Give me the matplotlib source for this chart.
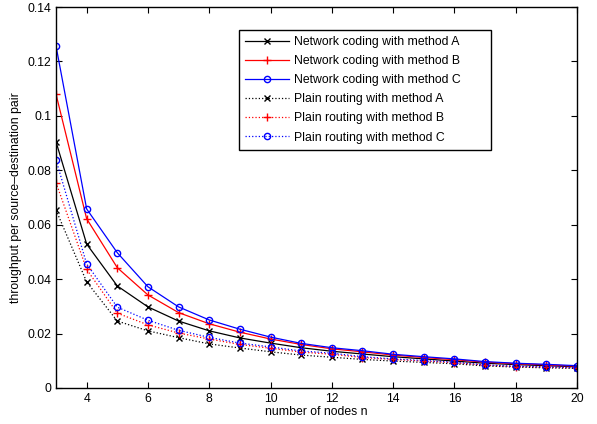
import matplotlib
matplotlib.use("Agg")
import matplotlib.pyplot as plt

plt.rcParams['font.family'] = ['Liberation Sans', 'DejaVu Sans']

n = list(range(3, 21))
nc_a = [0.0905, 0.0529, 0.0375, 0.0298, 0.0246, 0.0210, 0.0184, 0.0165, 0.0148, 0.0135, 0.0125, 0.0115, 0.0107, 0.0099, 0.0091, 0.0086, 0.0082, 0.0078]
nc_b = [0.1080, 0.0622, 0.0442, 0.0342, 0.0277, 0.0236, 0.0205, 0.0180, 0.0160, 0.0144, 0.0133, 0.0121, 0.0112, 0.0104, 0.0095, 0.0089, 0.0085, 0.0080]
nc_c = [0.1257, 0.0658, 0.0497, 0.0372, 0.0298, 0.0250, 0.0216, 0.0187, 0.0164, 0.0148, 0.0137, 0.0124, 0.0115, 0.0107, 0.0097, 0.0091, 0.0087, 0.0082]
pr_a = [0.0654, 0.0390, 0.0246, 0.0210, 0.0185, 0.0162, 0.0147, 0.0133, 0.0121, 0.0113, 0.0105, 0.0099, 0.0094, 0.0089, 0.0081, 0.0077, 0.0074, 0.0072]
pr_b = [0.0755, 0.0436, 0.0275, 0.0232, 0.0202, 0.0180, 0.0160, 0.0146, 0.0132, 0.0124, 0.0112, 0.0105, 0.0099, 0.0093, 0.0084, 0.0079, 0.0077, 0.0074]
pr_c = [0.0838, 0.0456, 0.0297, 0.0249, 0.0212, 0.0186, 0.0165, 0.0151, 0.0136, 0.0128, 0.0115, 0.0107, 0.0101, 0.0095, 0.0085, 0.0080, 0.0078, 0.0075]

labels = ["Network coding with method A", "Network coding with method B",
          "Network coding with method C", "Plain routing with method A",
          "Plain routing with method B", "Plain routing with method C"]
xticks = [4, 6, 8, 10, 12, 14, 16, 18, 20]
yticks = [0, 0.02, 0.04, 0.06, 0.08, 0.1, 0.12, 0.14]
yticklabels = ["0", "0.02", "0.04", "0.06", "0.08", "0.1", "0.12", "0.14"]

fig = plt.figure(figsize=(5.97, 4.24), dpi=100)
ax = fig.add_axes([56/597, 36/424, 521/597, 381/424])

ms = 4.5
lw = 0.9
ax.plot(n, nc_a, color='black', linestyle='-', marker='x', ms=ms, lw=lw, mew=1.0, label=labels[0])
ax.plot(n, nc_b, color='red', linestyle='-', marker='+', ms=ms+1, lw=lw, mew=1.0, label=labels[1])
ax.plot(n, nc_c, color='blue', linestyle='-', marker='o', ms=ms, lw=lw, mew=1.0, mfc='none', label=labels[2])
ax.plot(n, pr_a, color='black', linestyle=':', marker='x', ms=ms, lw=lw, mew=1.0, label=labels[3])
ax.plot(n, pr_b, color='red', linestyle=':', marker='+', ms=ms+1, lw=lw, mew=1.0, label=labels[4])
ax.plot(n, pr_c, color='blue', linestyle=':', marker='o', ms=ms, lw=lw, mew=1.0, mfc='none', label=labels[5])

ax.set_xlim(3, 20)
ax.set_ylim(0, 0.14)
ax.set_xticks(xticks)
ax.set_yticks(yticks)
ax.set_yticklabels(yticklabels)
ax.tick_params(direction='in', top=True, right=True, labelsize=8.8, length=4, width=0.8)
for s in ax.spines.values():
    s.set_linewidth(1.0)

ax.set_xlabel("number of nodes n", fontsize=8.8, labelpad=1)
ax.set_ylabel("throughput per source\u2013destination pair", fontsize=8.8, labelpad=4)

leg = ax.legend(loc='upper left', bbox_to_anchor=(0.351, 0.63, 0.484, 0.3096),
                mode='expand', fontsize=8.8,
                frameon=True, fancybox=False, edgecolor='black', framealpha=1,
                handlelength=3.6, labelspacing=0.58, borderpad=0.5, handletextpad=0.4,
                borderaxespad=0)
leg.get_frame().set_linewidth(1.0)

fig.savefig("out.png", dpi=100)
